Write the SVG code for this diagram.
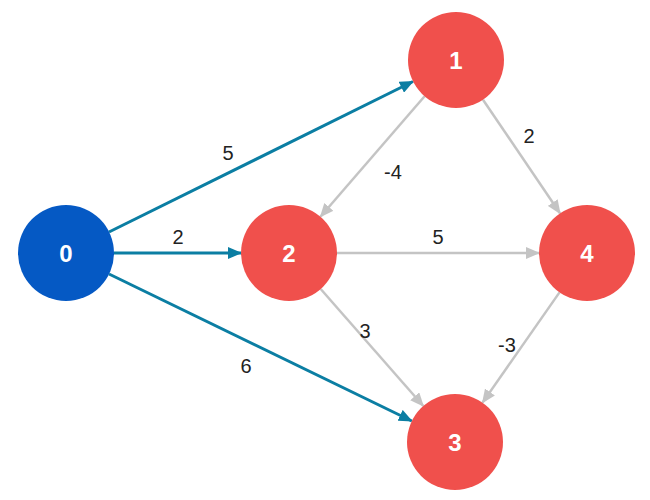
<svg xmlns="http://www.w3.org/2000/svg" width="650" height="500" viewBox="0 0 650 500">
<defs>
<marker id="at" viewBox="0 0 14 12" refX="13" refY="6" markerWidth="14" markerHeight="12" markerUnits="userSpaceOnUse" orient="auto"><path d="M0,0 L14,6 L0,12 Z" fill="#0b7ea3"/></marker>
<marker id="ag" viewBox="0 0 14 12" refX="13" refY="6" markerWidth="14" markerHeight="12" markerUnits="userSpaceOnUse" orient="auto"><path d="M0,0 L14,6 L0,12 Z" fill="#c4c4c4"/></marker>
</defs>
<style>
.t{stroke:#0b7ea3;stroke-width:3;fill:none;marker-end:url(#at)}
.g{stroke:#c4c4c4;stroke-width:2.5;fill:none;marker-end:url(#ag)}
.lbl{font-family:"Liberation Sans",Arial,sans-serif;font-size:20px;fill:#222;text-anchor:middle}
.red{fill:#f0504c}
.blue{fill:#0559c4}
.nl{font-family:"Liberation Sans",Arial,sans-serif;font-size:24px;font-weight:bold;fill:#fff;text-anchor:middle;dominant-baseline:central}
</style>
<rect width="650" height="500" fill="#fff"/>
<g id="connectors">
<line class="t" x1="109" y1="232" x2="413" y2="81.5"/>
<line class="t" x1="114" y1="253" x2="241" y2="253"/>
<line class="t" x1="109" y1="274" x2="411.8" y2="421"/>
<line class="g" x1="424.6" y1="96.3" x2="320.4" y2="216.7"/>
<line class="g" x1="483" y1="99.7" x2="560" y2="213.3"/>
<line class="g" x1="337" y1="253" x2="539" y2="253"/>
<line class="g" x1="320.7" y1="289" x2="423.3" y2="406"/>
<line class="g" x1="559.5" y1="292.4" x2="482.5" y2="402.6"/>
<text class="lbl" x="228" y="160">5</text>
<text class="lbl" x="178" y="244">2</text>
<text class="lbl" x="246" y="373">6</text>
<text class="lbl" x="393" y="179">-4</text>
<text class="lbl" x="529" y="143">2</text>
<text class="lbl" x="438" y="244">5</text>
<text class="lbl" x="365" y="338">3</text>
<text class="lbl" x="507" y="352">-3</text>
</g>
<g id="node0"><circle class="blue" cx="66" cy="253" r="48"/><text class="nl" x="66" y="253">0</text></g>
<g id="node1"><circle class="red" cx="456" cy="60" r="48"/><text class="nl" x="456" y="60">1</text></g>
<g id="node2"><circle class="red" cx="289" cy="253" r="48"/><text class="nl" x="289" y="253">2</text></g>
<g id="node3"><circle class="red" cx="455" cy="442" r="48"/><text class="nl" x="455" y="442">3</text></g>
<g id="node4"><circle class="red" cx="587" cy="253" r="48"/><text class="nl" x="587" y="253">4</text></g>
</svg>
